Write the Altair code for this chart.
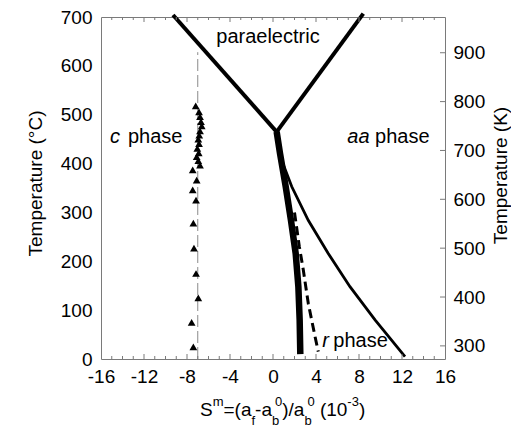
import altair as alt
import pandas as pd

# ---------------- data ----------------
# paraelectric boundaries (V shape)
para_left_x = [-9.3, 0.34]
para_left_y = [704, 465]
para_right_x = [0.34, 8.4]
para_right_y = [465, 707]
# thick c/aa boundary
thick_x = [0.34, 0.65, 1.18, 1.67, 2.11, 2.36, 2.48, 2.54]
thick_y = [465, 421, 353, 284, 216, 148, 80, 10]
# thin aa curve
thin_x = [0.75, 1.74, 3.28, 5.14, 7.16, 9.49, 12.28]
thin_y = [410, 353, 284, 216, 148, 80, 5]
# dashed r phase curve
dash_x = [2.0, 2.45, 2.82, 3.28, 3.91, 4.21]
dash_y = [300, 230, 182, 114, 46, 15]
# c phase measured points (triangles)
tri_x = [-7.41, -7.57, -6.95, -7.16, -7.35, -7.41, -7.16, -7.47, -7.10, -7.47, -6.79,
         -6.95, -7.10, -6.91, -7.04, -6.88, -6.95, -6.86, -6.79, -6.63, -6.70, -6.79,
         -6.88, -7.19]
tri_y = [25, 75, 125, 175, 227, 278, 325, 346, 366, 387, 397,
         406, 414, 422, 431, 441, 450, 458, 467, 477, 486, 496,
         506, 518]
# thin vertical guide line
guide_x = [-7.0, -7.0]
guide_y = [0, 628]

# axes ticks
x_ticks = list(range(-16, 17, 4))
x_minor = [v for v in range(-15, 16) if v % 4 != 0]
x_major_inner = list(range(-12, 13, 4))
y_ticks_c = list(range(0, 701, 100))
y_ticks_k = list(range(300, 901, 100))

# annotations (text, x, y, italic, align)
labels = [
    ("paraelectric", -0.47, 647, False, "center"),
    ("c", -15.16, 442, True, "left"),
    ("phase", -13.49, 442, False, "left"),
    ("aa", 6.91, 442, True, "left"),
    ("phase", 9.49, 442, False, "left"),
    ("r", 4.59, 25, True, "left"),
    ("phase", 5.61, 25, False, "left"),
]

# ---------------- layout ----------------
W, H = 344, 342
FONT = "Liberation Sans"
GRAY = "#7a7a7a"
MAIN, SMALL = 19, 13
TICKFS = 19

xs = alt.Scale(domain=[-16, 16], nice=False, zero=False)
ys = alt.Scale(domain=[0, 700], nice=False, zero=False)

x_axis = alt.Axis(values=x_ticks, ticks=False, domain=False, grid=False,
                  labelPadding=8, title="", labelFontSize=TICKFS, labelFlush=False,
                  labelOverlap=False, labelExpr="'' + datum.value")
y_axis = alt.Axis(values=y_ticks_c, ticks=False, domain=False, grid=False,
                  labelPadding=9, labelFontSize=TICKFS, labelFlush=False, labelOverlap=False,
                  title="Temperature (°C)", titleFontSize=MAIN, titleFontWeight="normal",
                  titleX=-66, titleY=166, titleAngle=270, titleAlign="center",
                  titleBaseline="middle", labelExpr="'' + datum.value")
k_axis = alt.Axis(values=y_ticks_k, orient="right", ticks=False, domain=False, grid=False,
                  labelPadding=8, labelFontSize=TICKFS, labelFlush=False, labelOverlap=False,
                  title="Temperature (K)", titleFontSize=MAIN, titleFontWeight="normal",
                  titleX=55, titleY=158, titleAngle=270, titleAlign="center",
                  titleBaseline="middle", labelExpr="'' + datum.value")

X = alt.X("x:Q", scale=xs, axis=x_axis)
Y = alt.Y("y:Q", scale=ys, axis=y_axis)


def curve(xv, yv, color="black", **mk):
    df = pd.DataFrame({"x": xv, "y": yv, "i": list(range(len(xv)))})
    return alt.Chart(df).mark_line(color=color, strokeCap="butt", **mk).encode(
        x=X, y=Y, order="i:Q")


layers = []
layers.append(curve(guide_x, guide_y, color="#8a8a8a", strokeWidth=1, strokeDash=[12, 4]))
layers.append(alt.Chart(pd.DataFrame({"x": tri_x, "y": tri_y})).mark_point(
    shape="triangle-up", filled=True, color="black", opacity=1, size=60).encode(x=X, y=Y))
layers.append(curve(thin_x, thin_y, strokeWidth=2.8))
layers.append(curve(dash_x, dash_y, strokeWidth=3, strokeDash=[9, 5]))
layers.append(curve(thick_x, thick_y, strokeWidth=6.5))
layers.append(curve(para_left_x, para_left_y, strokeWidth=4))
layers.append(curve(para_right_x, para_right_y, strokeWidth=4))

# inward ticks on bottom / top
for vals, ln in ((x_minor, 3), (x_major_inner, 5)):
    d = pd.DataFrame({"x": vals})
    layers.append(alt.Chart(d).mark_rule(color=GRAY, strokeWidth=1).encode(
        x=X, y=alt.value(H), y2=alt.value(H - ln)))
    layers.append(alt.Chart(d).mark_rule(color=GRAY, strokeWidth=1).encode(
        x=X, y=alt.value(0), y2=alt.value(ln)))

# annotations
for t, lx, ly, it, al in labels:
    d = pd.DataFrame({"x": [lx], "y": [ly], "t": [t]})
    layers.append(alt.Chart(d).mark_text(
        font=FONT, fontSize=20, fontStyle="italic" if it else "normal", align=al,
        baseline="alphabetic", color="black").encode(x=X, y=Y, text="t:N"))

# x-axis title composed from pieces (sub/superscripts)
ADV = {"S": 667, "m": 833, "=": 584, "(": 333, "a": 556, "f": 278, "-": 333, "b": 556,
       "0": 556, ")": 333, "/": 278, " ": 278, "1": 556, "3": 556}


def adv(s, size):
    return sum(ADV[c] for c in s) * size / 1000.0


BASE_MAIN, BASE_SUP, BASE_SUB = 399, 389, 408
pieces = []
cx = 99.0
seq = [("S", "main"), ("m", "sup"), ("=(a", "main"), ("f", "sub"), ("-a", "main"),
       ("b|0", "pair"), (")/a", "main"), ("b|0", "pair"), (" ", "space"), ("(10", "main"),
       ("-3", "sup"), (")", "main")]
for s, kind in seq:
    if kind == "pair":
        pieces.append(("b", cx, BASE_SUB, SMALL))
        pieces.append(("0", cx + 3, BASE_SUP, SMALL))
        cx += 3 + adv("0", SMALL)
    elif kind == "space":
        cx += adv(s, MAIN)
    elif kind == "main":
        pieces.append((s, cx, BASE_MAIN, MAIN))
        cx += adv(s, MAIN)
    else:
        pieces.append((s, cx, BASE_SUP if kind == "sup" else BASE_SUB, SMALL))
        cx += adv(s, SMALL)

for s, px, py, fs in pieces:
    d = pd.DataFrame({"t": [s]})
    layers.append(alt.Chart(d).mark_text(
        font=FONT, fontSize=fs, align="left", baseline="alphabetic", color="black").encode(
        x=alt.value(px), y=alt.value(py), text="t:N"))

main = alt.layer(*layers)

kdf = pd.DataFrame({"k": y_ticks_k})
right = alt.Chart(kdf).mark_rule(color=GRAY, strokeWidth=1).encode(
    y=alt.Y("k:Q", scale=alt.Scale(domain=[273.15, 973.15], nice=False, zero=False), axis=k_axis),
    x=alt.value(W - 5), x2=alt.value(W))

chart = alt.layer(main, right).resolve_scale(y="independent").properties(
    width=W, height=H, autosize=alt.AutoSizeParams(type="none"),
    padding={"left": 93, "top": 9, "right": 66, "bottom": 68},
).configure_view(stroke=GRAY, strokeWidth=1).configure_axis(
    labelFont=FONT, titleFont=FONT, labelColor="black", titleColor="black")

chart.save("out.html", embed_options={"renderer": "svg", "actions": False})
